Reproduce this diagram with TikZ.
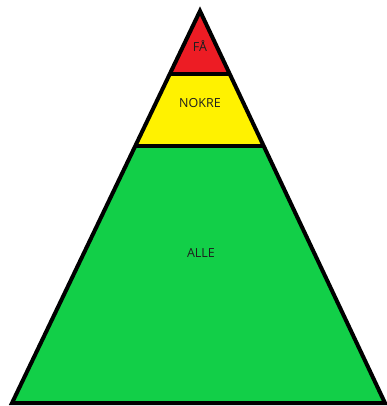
\documentclass[tikz,border=0pt]{standalone}
\usepackage{fontspec}
\setmainfont{Open Sans}
\usetikzlibrary{calc}
\definecolor{topred}{RGB}{237,28,36}
\definecolor{midyellow}{RGB}{255,242,0}
\definecolor{basegreen}{RGB}{18,207,72}
\definecolor{labelgray}{RGB}{30,30,30}
\begin{document}
\begin{tikzpicture}[x=1pt,y=-1pt,
  outline/.style={draw=black,line width=4pt,line join=miter},
  label/.style={text=labelgray,font=\fontsize{12.5}{14}\selectfont,inner sep=0pt}]
\useasboundingbox (0,0) rectangle (387,406);
\coordinate (apex) at (200,11);
\coordinate (bl) at (12,403);
\coordinate (br) at (385,403);
\coordinate (l1) at ($(apex)!0.1607!(bl)$);
\coordinate (r1) at ($(apex)!0.1607!(br)$);
\coordinate (l2) at ($(apex)!0.3444!(bl)$);
\coordinate (r2) at ($(apex)!0.3444!(br)$);
\fill[basegreen] (l2) -- (r2) -- (br) -- (bl) -- cycle;
\fill[midyellow] (l1) -- (r1) -- (r2) -- (l2) -- cycle;
\fill[topred] (apex) -- (r1) -- (l1) -- cycle;
\draw[outline] (apex) -- (br) -- (bl) -- cycle;
\draw[outline] (l1) -- (r1);
\draw[outline] (l2) -- (r2);
\node[label] (fa) at (200,46) {FÅ};
\node[label] (nokre) at (200,103) {NOKRE};
\node[label] (alle) at (201,253) {ALLE};
\end{tikzpicture}
\end{document}
